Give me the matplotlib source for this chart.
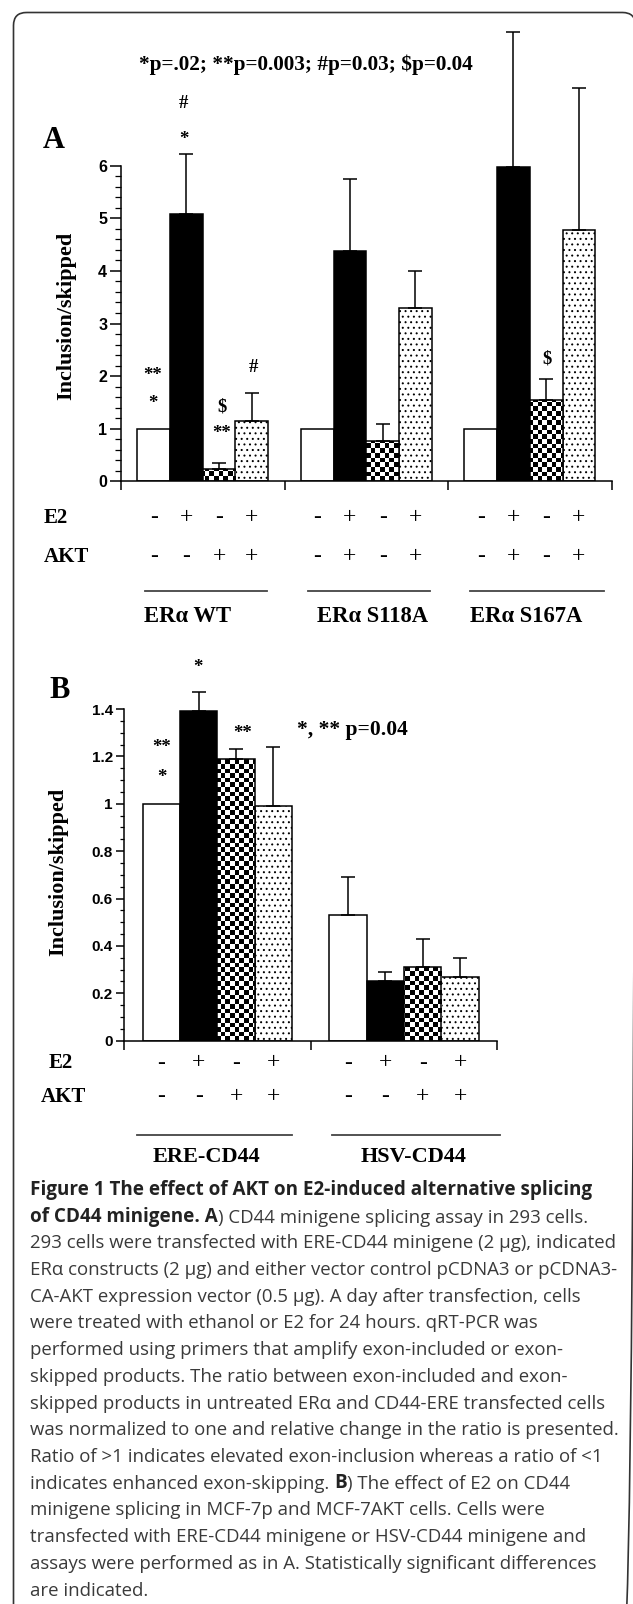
import numpy as np
import matplotlib
matplotlib.use("Agg")
import matplotlib.pyplot as plt
from matplotlib.patches import FancyBboxPatch
from matplotlib.transforms import blended_transform_factory
from matplotlib.ticker import FuncFormatter

W, H = 633, 1604

# ---------------- data ----------------
# panel A: ERa constructs in 293 cells
groups_a = ["ERα WT", "ERα S118A", "ERα S167A"]
e2_a = [["-", "+", "-", "+"], ["-", "+", "-", "+"], ["-", "+", "-", "+"]]
akt_a = [["-", "-", "+", "+"], ["-", "+", "-", "+"], ["-", "+", "-", "+"]]
means_a = [[1.0, 5.08, 0.24, 1.14],
           [1.0, 4.37, 0.77, 3.30],
           [1.0, 5.97, 1.55, 4.77]]
errs_a = [[0.0, 1.14, 0.11, 0.54],
          [0.0, 1.38, 0.31, 0.70],
          [0.0, 2.58, 0.40, 2.71]]

# panel B: minigenes in MCF-7 cells
groups_b = ["ERE-CD44", "HSV-CD44"]
e2_b = [["-", "+", "-", "+"], ["-", "+", "-", "+"]]
akt_b = [["-", "-", "+", "+"], ["-", "-", "+", "+"]]
means_b = [[1.00, 1.39, 1.19, 0.99],
           [0.53, 0.25, 0.31, 0.27]]
errs_b = [[0.0, 0.08, 0.04, 0.25],
          [0.16, 0.04, 0.12, 0.08]]

title_a = "*p=.02; **p=0.003; #p=0.03; $p=0.04"
note_b = "*, ** p=0.04"

caption = [
    [("Figure 1 The effect of AKT on E2-induced alternative splicing", True)],
    [("of CD44 minigene. A", True), (") CD44 minigene splicing assay in 293 cells.", False)],
    [("293 cells were transfected with ERE-CD44 minigene (2 µg), indicated", False)],
    [("ERα constructs (2 µg) and either vector control pCDNA3 or pCDNA3-", False)],
    [("CA-AKT expression vector (0.5 µg). A day after transfection, cells", False)],
    [("were treated with ethanol or E2 for 24 hours. qRT-PCR was", False)],
    [("performed using primers that amplify exon-included or exon-", False)],
    [("skipped products. The ratio between exon-included and exon-", False)],
    [("skipped products in untreated ERα and CD44-ERE transfected cells", False)],
    [("was normalized to one and relative change in the ratio is presented.", False)],
    [("Ratio of >1 indicates elevated exon-inclusion whereas a ratio of <1", False)],
    [("indicates enhanced exon-skipping. ", False), ("B", True), (") The effect of E2 on CD44", False)],
    [("minigene splicing in MCF-7p and MCF-7AKT cells. Cells were", False)],
    [("transfected with ERE-CD44 minigene or HSV-CD44 minigene and", False)],
    [("assays were performed as in A. Statistically significant differences", False)],
    [("are indicated.", False)],
]

SERIF = "Liberation Serif"
SANS = "Liberation Sans"
CAPF = "Open Sans"
plt.rcParams["hatch.linewidth"] = 0.7

fig = plt.figure(figsize=(W / 100, H / 100), dpi=100)

# overlay in pixel units (top-left origin) for texts and frame
ov = fig.add_axes([0, 0, 1, 1], zorder=5)
ov.set_xlim(0, W)
ov.set_ylim(H, 0)
ov.axis("off")


def draw_panel(ax, means, errs, ymax, top, major, minor, lab_size, tick_len):
    n = len(means)
    ax.set_xlim(0, n)
    ax.set_ylim(0, ymax)
    bb = ax.get_window_extent()
    cell = 4.6
    board = np.add.outer(np.arange(int(bb.height / cell)), np.arange(int(bb.width / cell))) % 2
    for k in range(4):
        xs = [g + 0.2 + 0.2 * k for g in range(n)]
        ys = [m[k] for m in means]
        if k == 0:
            ax.bar(xs, ys, 0.2, color="white", edgecolor="black", linewidth=1.1, zorder=2)
        elif k == 1:
            ax.bar(xs, ys, 0.2, color="black", edgecolor="black", linewidth=1.1, zorder=2)
        elif k == 2:
            bars = ax.bar(xs, ys, 0.2, color="white", edgecolor="none", zorder=2)
            for p in bars.patches:
                im = ax.imshow(board, cmap="gray", extent=(0, n, 0, ymax), aspect="auto",
                               interpolation="nearest", origin="lower", zorder=2.2)
                im.set_clip_path(p)
            ax.bar(xs, ys, 0.2, fill=False, edgecolor="black", linewidth=1.1, zorder=2.5)
        else:
            ax.bar(xs, ys, 0.2, color="white", edgecolor="black", hatch="...",
                   linewidth=1.1, zorder=2)
        es = [e[k] for e in errs]
        keep = [i for i in range(n) if es[i] > 0]
        if keep:
            ax.errorbar([xs[i] for i in keep], [ys[i] for i in keep],
                        yerr=[[0] * len(keep), [es[i] for i in keep]],
                        fmt="none", ecolor="black", elinewidth=1.1,
                        capsize=4.7, capthick=1.1, zorder=3)
    ax.set_xlim(0, n)
    ax.set_ylim(0, ymax)
    for s in ["top", "right"]:
        ax.spines[s].set_visible(False)
    ax.spines["left"].set_bounds(0, top)
    ax.spines["left"].set_linewidth(1.1)
    ax.spines["bottom"].set_linewidth(1.1)
    ax.set_yticks(major)
    ax.set_yticks(minor, minor=True)
    ax.yaxis.set_major_formatter(FuncFormatter(lambda v, p: f"{v:g}"))
    ax.set_xticks(range(n + 1))
    ax.set_xticklabels([])
    ax.tick_params(axis="x", length=6.5, width=1.1)
    ax.tick_params(axis="y", which="major", length=tick_len, width=1.1, pad=2)
    ax.tick_params(axis="y", which="minor", length=tick_len / 2, width=0.9)
    for t in ax.get_yticklabels():
        t.set_fontfamily(SANS)
        t.set_fontweight("bold")
        t.set_fontsize(lab_size)
    ax.patch.set_alpha(0)


def signs_rows(ax, rows, ys, xlab, labels, line_spans, line_y):
    tr = blended_transform_factory(ax.transData, ov.transData)
    for row, y, name in zip(rows, ys, labels):
        ov.text(xlab[name], y, name, ha="left", va="center", fontfamily=SERIF,
                fontweight="bold", fontsize=15)
        for g, signs in enumerate(row):
            for k, s in enumerate(signs):
                ax.text(g + 0.2 + 0.2 * k, y, s, transform=tr, ha="center", va="center",
                        fontfamily=SERIF, fontsize=17, clip_on=False)
    for (x0, x1) in line_spans:
        ov.plot([x0, x1], [line_y, line_y], color="#444444", lw=1.3)


# ---------------- panel A ----------------
ax_a = fig.add_axes([121 / W, 1 - 481.3 / H, (611.6 - 121) / W, 9 * 52.6 / H])
draw_panel(ax_a, means_a, errs_a, 9, 6, range(7), np.arange(0, 6.01, 0.2), 11.5, 8)

ov.text(305.8, 65, title_a, ha="center", va="center", fontfamily=SERIF,
        fontweight="bold", fontsize=15.3)
ov.text(53.5, 140, "A", ha="center", va="center", fontfamily=SERIF,
        fontweight="bold", fontsize=22)
ov.text(66.6, 316, "Inclusion/skipped", rotation=90, ha="center", va="center",
        fontfamily=SERIF, fontweight="bold", fontsize=16)
for x, y, s in [(183.7, 104, "#"), (183.7, 140, "*"), (152.6, 375, "**"),
                (152.6, 404, "*"), (222, 407, "$"), (222, 434, "**"),
                (253.5, 367, "#"), (546.6, 359, "$")]:
    ov.text(x, y, s, ha="center", va="center", fontfamily=SERIF,
            fontweight="bold", fontsize=13.5)

signs_rows(ax_a, [e2_a, akt_a], [518, 556.7], {"E2": 44, "AKT": 44}, ["E2", "AKT"],
           [(144.5, 267), (307.6, 430), (469.5, 604)], 590.7)
for x, name in zip([144.5, 317, 469.5], groups_a):
    ov.text(x, 616.7, name, ha="left", va="center", fontfamily=SERIF,
            fontweight="bold", fontsize=16.3)

# ---------------- panel B ----------------
ax_b = fig.add_axes([124 / W, 1 - 1040.7 / H, (497.4 - 124) / W, 1.5 * 236.9 / H])
draw_panel(ax_b, means_b, errs_b, 1.5, 1.4, np.round(np.arange(0, 1.41, 0.2), 1),
           np.arange(0, 1.401, 0.05), 11, 6)

ov.text(59.5, 690, "B", ha="center", va="center", fontfamily=SERIF,
        fontweight="bold", fontsize=22)
ov.text(58.5, 871.7, "Inclusion/skipped", rotation=90, ha="center", va="center",
        fontfamily=SERIF, fontweight="bold", fontsize=16)
ov.text(297, 730, note_b, ha="left", va="center", fontfamily=SERIF,
        fontweight="bold", fontsize=15.5)
for x, y, s in [(198, 667, "*"), (161.5, 748, "**"), (161.5, 778, "*"), (243, 733, "**")]:
    ov.text(x, y, s, ha="center", va="center", fontfamily=SERIF,
            fontweight="bold", fontsize=13.5)

signs_rows(ax_b, [e2_b, akt_b], [1063, 1096.7], {"E2": 48.4, "AKT": 40.4}, ["E2", "AKT"],
           [(136.5, 292.3), (331.9, 499.8)], 1135)
for x, name in zip([152.6, 361], groups_b):
    ov.text(x, 1157, name, ha="left", va="center", fontfamily=SERIF,
            fontweight="bold", fontsize=16)

# ---------------- caption ----------------
for i, line in enumerate(caption):
    y = 1189 + 26.7 * i + 6
    prev = None
    for text, bold in line:
        kw = dict(fontfamily=CAPF, fontsize=13.6 if bold else 13.4,
                  fontweight="bold" if bold else "normal",
                  color="#222222" if bold else "#3a3a3a", ha="left")
        if prev is None:
            prev = ov.text(30, y, text, va="baseline", **kw)
        else:
            prev = ov.annotate(text, xy=(1, 0), xycoords=prev, va="bottom", **kw)

# ---------------- frame ----------------
frame = FancyBboxPatch((13.5, 12.5), 622, 1650, boxstyle="round,pad=0,rounding_size=13",
                       fill=False, edgecolor="#333333", linewidth=1.2, clip_on=False)
ov.add_patch(frame)

fig.savefig("out.png", dpi=100)
